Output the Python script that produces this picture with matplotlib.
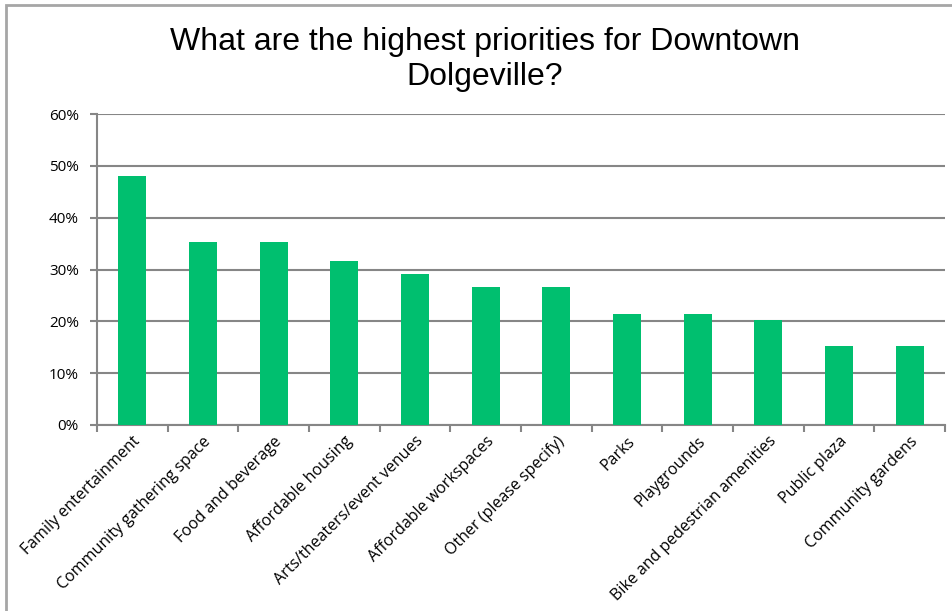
import matplotlib.pyplot as plt
from matplotlib.patches import Rectangle
from matplotlib.ticker import FuncFormatter, MultipleLocator
import numpy as np

categories = [
    'Family entertainment', 'Community gathering space', 'Food and beverage',
    'Affordable housing', 'Arts/theaters/event venues', 'Affordable workspaces',
    'Other (please specify)', 'Parks', 'Playgrounds',
    'Bike and pedestrian amenities', 'Public plaza', 'Community gardens',
]
shares = [48.1, 35.4, 35.4, 31.6, 29.1, 26.6, 26.6, 21.5, 21.5, 20.3, 15.2, 15.2]

title = 'What are the highest priorities for Downtown\nDolgeville?'
bar_color = '#00bf6f'
grid_color = '#868686'

fig = plt.figure(figsize=(9.52, 6.11), dpi=100)
fig.patches.append(Rectangle((6 / 952, -0.1), 1.1, 1.1 - 5 / 611,
                             transform=fig.transFigure, fill=False,
                             edgecolor='#a6a6a6', linewidth=2))

ax = fig.add_axes([97 / 952, 186 / 611, 848 / 952, 311 / 611])
x = np.arange(len(categories))
ax.bar(x, shares, width=0.4, color=bar_color, zorder=3)

ax.set_xlim(-0.5, len(categories) - 0.5)
ax.set_ylim(0, 60)
ax.yaxis.set_major_locator(MultipleLocator(10))
ax.yaxis.set_major_formatter(FuncFormatter(lambda v, _: f'{v:.0f}%'))
ax.grid(axis='y', color=grid_color, linewidth=1.5, zorder=0)

# category ticks sit on the boundaries between bars
ax.set_xticks(np.arange(len(categories) + 1) - 0.5)
ax.set_xticklabels([])
ax.set_xticks(x, minor=True)
ax.set_xticklabels(categories, minor=True, rotation=45, ha='right',
                   rotation_mode='anchor', fontsize=11.5, family='Open Sans')
ax.tick_params(axis='x', which='minor', length=0, pad=6)
ax.tick_params(axis='x', which='major', length=5, width=1.5, color=grid_color)
ax.tick_params(axis='y', length=5, width=1.5, color=grid_color, labelsize=11, pad=8)
for lbl in ax.get_yticklabels():
    lbl.set_family('Open Sans')

for side in ['top', 'right']:
    ax.spines[side].set_visible(False)
for side in ['left', 'bottom']:
    ax.spines[side].set_color(grid_color)
    ax.spines[side].set_linewidth(1.5)

fig.text(485 / 952, 1 - 27 / 611, title, ha='center', va='top',
         fontsize=23, family='Liberation Sans', linespacing=1.2)

fig.savefig('out.png', dpi=100)
